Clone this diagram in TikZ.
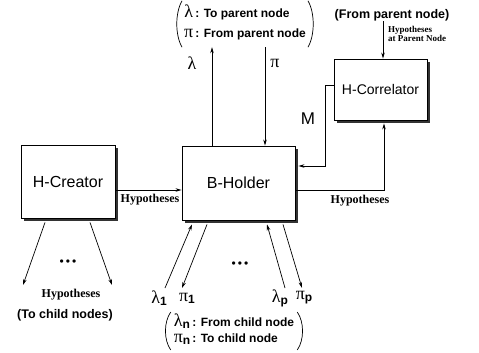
\documentclass[tikz,border=0pt]{standalone}
\usepackage{fontspec}
\setmainfont{Liberation Serif}
\setsansfont{Liberation Sans}
\usetikzlibrary{arrows.meta,shadows}

\newcommand\gsym[1]{{\rmfamily\mdseries\fontsize{18}{18}\selectfont #1}}
\newcommand\subsf[1]{\raisebox{-2pt}{\sffamily\bfseries\fontsize{12}{12}\selectfont #1}}
\newcommand\pnote[1]{{\sffamily\bfseries\fontsize{12}{12}\selectfont #1}}

\begin{document}
\begin{tikzpicture}[x=1pt, y=-1pt,
  font=\sffamily,
  box/.style={draw, line width=0.9pt, fill=white, inner sep=0pt,
    drop shadow={shadow xshift=3pt, shadow yshift=-3pt, opacity=1, fill=black!80},
    font=\sffamily\fontsize{16}{16}\selectfont},
  arr/.style={-{Stealth[length=6pt, width=3.5pt]}, line width=0.7pt},
  paren/.style={line width=0.7pt},
  lbl/.style={font=\rmfamily\bfseries\fontsize{12}{12}\selectfont, inner sep=1pt},
  note/.style={font=\sffamily\bfseries\fontsize{12.5}{12.5}\selectfont, inner sep=0pt},
  greek/.style={font=\rmfamily\fontsize{18}{18}\selectfont, inner sep=0pt},
  dots/.style={font=\sffamily\fontsize{12}{12}\selectfont, inner sep=0pt}
]
\useasboundingbox (0,0) rectangle (479,353);
\node[box, minimum width=94pt, minimum height=73pt] (creator) at (68,181.5) {H-Creator};
\node[box, minimum width=113pt, minimum height=74pt] (holder) at (238.5,183) {B-Holder};
\node[box, minimum width=93pt, minimum height=61pt, font=\sffamily\fontsize{14}{14}\selectfont] (correl) at (380.5,89.5) {H-Correlator};

\coordinate (hy) at (0,190);
\draw[arr] (creator.east |- hy) -- (holder.west |- hy);
\node[lbl] (hypl) at (150,200) {Hypotheses};
\draw[arr] (holder.east |- hy) -| ([xshift=3.5pt, yshift=-3pt]correl.south);
\node[lbl] (hypr) at (360,201) {Hypotheses};

\coordinate (mx) at (325,0);
\coordinate (mend) at ([xshift=3pt, yshift=17pt]holder.east);
\draw[arr] ([yshift=4.5pt]correl.west) -| (mx |- mend) -- (mend);
\node[font=\sffamily\fontsize{17}{17}\selectfont, inner sep=0pt] (mlbl) at (308,119) {M};

\node[inner xsep=9pt, inner ysep=3pt, font=\fontsize{12}{20}\selectfont] (ptop) at (245,24)
  {\begin{tabular}{@{}c@{\,}l@{}}\gsym{λ} & \pnote{: To parent node}\\ \gsym{π} & \pnote{: From parent node}\end{tabular}};
\draw[paren] ([xshift=7pt]ptop.north west) .. controls ([xshift=0pt, yshift=-12pt]ptop.north west) and ([xshift=0pt, yshift=12pt]ptop.south west) .. ([xshift=7pt]ptop.south west);
\draw[paren] ([xshift=-7pt]ptop.north east) .. controls ([xshift=0pt, yshift=-12pt]ptop.north east) and ([xshift=0pt, yshift=12pt]ptop.south east) .. ([xshift=-7pt]ptop.south east);
\draw[arr] ([xshift=-26.5pt]holder.north) -- ([xshift=-26.5pt]holder.north |- ptop.south);
\draw[arr] ([xshift=26.5pt]holder.north |- ptop.south) -- ([xshift=26.5pt]holder.north);
\node[greek] (lamtop) at (192,63) {λ};
\node[greek] (pitop) at (275,63) {π};

\node[note] (fromp) at (392,15) {(From parent node)};
\draw[arr] ([xshift=2.5pt]correl.north |- fromp.south) -- ([xshift=2.5pt]correl.north);
\node[font=\rmfamily\bfseries\fontsize{9}{8}\selectfont, align=left, anchor=west, inner sep=0pt] (hypp) at (388,34) {Hypotheses\\at Parent Node};

\coordinate (cl) at (23,285);
\coordinate (cr) at (112,285);
\draw[arr] ([xshift=-23pt, yshift=-4pt]creator.south) -- (cl);
\draw[arr] ([xshift=22pt, yshift=-4pt]creator.south) -- (cr);
\node[dots] (cdots) at (68,263) {•\hspace{2pt}•\hspace{2pt}•};
\node[lbl] (hypc) at (71,295) {Hypotheses};
\node[note] (tochild) at (65,315) {(To child nodes)};

\node[greek] (lamone) at (159,298) {λ\subsf{1}};
\node[greek] (pione) at (187,298) {π\subsf{1}};
\node[greek] (lamp) at (280,298) {λ\subsf{p}};
\node[greek] (pip) at (304,298) {π\subsf{p}};
\coordinate (lo) at (165,288);
\coordinate (po) at (182,288);
\coordinate (lp) at (285,288);
\coordinate (pp) at (302,288);
\draw[arr] (lo) -- ([xshift=-46.5pt, yshift=-4pt]holder.south);
\draw[arr] ([xshift=-31.5pt, yshift=-4pt]holder.south) -- (po);
\draw[arr] (lp) -- ([xshift=28.5pt, yshift=-4pt]holder.south);
\draw[arr] ([xshift=44.5pt, yshift=-4pt]holder.south) -- (pp);
\node[dots] (hdots) at (240,265) {•\hspace{2pt}•\hspace{2pt}•};

\node[inner xsep=10pt, inner ysep=2pt, font=\fontsize{12}{16}\selectfont] (pbot) at (234,331)
  {\begin{tabular}{@{}l@{\,}l@{}}\gsym{λ}\subsf{n} & \pnote{: From child node}\\ \gsym{π}\subsf{n} & \pnote{: To child node}\end{tabular}};
\draw[paren] ([xshift=7pt]pbot.north west) .. controls ([xshift=0pt, yshift=-10pt]pbot.north west) and ([xshift=0pt, yshift=10pt]pbot.south west) .. ([xshift=7pt]pbot.south west);
\draw[paren] ([xshift=-7pt]pbot.north east) .. controls ([xshift=0pt, yshift=-10pt]pbot.north east) and ([xshift=0pt, yshift=10pt]pbot.south east) .. ([xshift=-7pt]pbot.south east);
\end{tikzpicture}
\end{document}
